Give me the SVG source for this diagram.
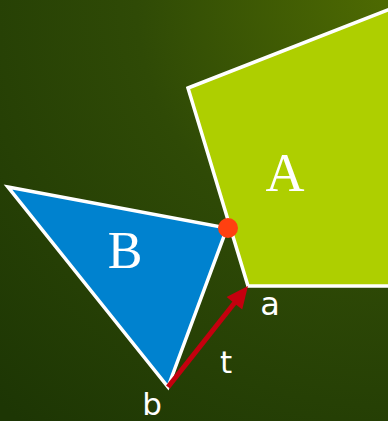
<svg xmlns="http://www.w3.org/2000/svg" width="388" height="421" viewBox="0 0 388 421">
<defs>
<radialGradient id="bg" cx="388" cy="0" r="560" gradientUnits="userSpaceOnUse">
<stop offset="0" stop-color="#4e6a02"/>
<stop offset="0.45" stop-color="#2f4a06"/>
<stop offset="1" stop-color="#1d3604"/>
</radialGradient>
<style>
.shape{stroke:#ffffff;stroke-width:3.5;stroke-linejoin:miter}
.big{font-family:"Liberation Serif",serif;fill:#ffffff;text-anchor:middle}
.small{font-family:"DejaVu Sans",sans-serif;fill:#ffffff;text-anchor:middle}
.arrow{fill:#c4000e}
</style>
</defs>
<rect width="388" height="421" fill="url(#bg)"/>
<g id="A">
<polygon class="shape" points="188,88 390,9 390,286 248,286" fill="#aecf00"/>
<text class="big" x="285" y="191" font-size="54">A</text>
</g>
<g id="B">
<polygon class="shape" points="8,187 227,228 168,387" fill="#0082cf"/>
<text class="big" x="125" y="268" font-size="52">B</text>
</g>
<g id="contact">
<circle cx="228" cy="228" r="10" fill="#ff4010"/>
</g>
<g id="connectors">
<line x1="168" y1="387" x2="236" y2="301" stroke="#c4000e" stroke-width="5"/>
<polygon class="arrow" points="248,286 242.2,309.4 226.6,297"/>
</g>
<g id="labels">
<text class="small" x="270" y="315" font-size="32">a</text>
<text class="small" x="226" y="373" font-size="31">t</text>
<text class="small" x="152" y="415" font-size="31">b</text>
</g>
</svg>
